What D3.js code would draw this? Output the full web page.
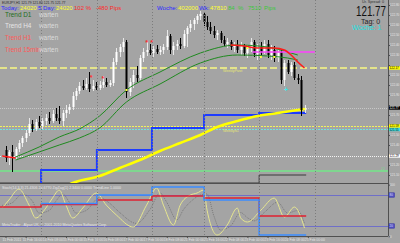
<!DOCTYPE html>
<html><head><meta charset="utf-8">
<script src="https://cdn.jsdelivr.net/npm/d3@7"></script>
<style>html,body{margin:0;padding:0;background:#a4a4a4;overflow:hidden}svg{display:block}text{font-family:"Liberation Sans",Arial,sans-serif}</style>
</head><body><svg id="c" width="400" height="243"></svg>
<script>
// ---------- DATA ----------
// candles [open, high, low, close]
const candles = [
[121.35,121.39,121.23,121.27],[121.27,121.35,121.20,121.33],[121.33,121.40,121.13,121.29],[121.29,121.38,121.25,121.36],
[121.36,121.45,121.33,121.42],[121.42,121.49,121.38,121.47],[121.47,121.55,121.43,121.52],[121.52,121.67,121.49,121.61],
[121.61,121.65,121.53,121.56],[121.56,121.66,121.54,121.63],[121.63,121.69,121.57,121.59],[121.59,121.67,121.56,121.64],
[121.64,121.71,121.60,121.67],[121.67,121.73,121.61,121.64],[121.64,121.75,121.62,121.71],[121.71,121.77,121.64,121.67],
[121.67,121.79,121.61,121.64],[121.64,121.75,121.59,121.72],[121.72,121.80,121.67,121.75],[121.75,121.81,121.71,121.78],
[121.78,121.93,121.75,121.89],[121.89,121.97,121.85,121.94],[121.94,122.03,121.91,121.99],[121.99,122.05,121.95,121.97],
[121.97,122.07,121.95,122.01],[122.01,122.13,121.93,121.96],[121.96,122.05,121.94,121.99],[121.99,122.03,121.95,121.97],
[121.97,122.04,121.95,122.00],[122.00,122.09,121.97,122.03],[122.03,122.07,121.98,122.00],[122.00,122.05,121.98,122.02],
[122.02,122.27,121.99,122.23],[122.23,122.37,122.20,122.33],[122.33,122.41,122.28,122.38],[122.38,122.47,122.33,122.43],
[122.43,122.45,121.87,121.93],[121.93,122.07,121.89,122.03],[122.03,122.15,121.97,122.10],[122.10,122.19,122.03,122.07],
[122.07,122.30,122.05,122.27],[122.27,122.37,122.23,122.33],[122.33,122.43,122.29,122.35],[122.35,122.41,122.30,122.32],
[122.32,122.39,122.28,122.36],[122.36,122.40,122.31,122.33],[122.33,122.39,122.30,122.35],[122.35,122.41,122.31,122.38],
[122.38,122.55,122.35,122.49],[122.49,122.51,122.31,122.35],[122.35,122.43,122.30,122.39],[122.39,122.45,122.35,122.41],
[122.41,122.47,122.36,122.39],[122.39,122.55,122.37,122.51],[122.51,122.59,122.38,122.57],[122.57,122.65,122.53,122.61],
[122.61,122.67,122.55,122.65],[122.65,122.71,122.61,122.69],[122.69,122.74,122.65,122.71],[122.71,122.73,122.59,122.63],
[122.63,122.69,122.55,122.58],[122.58,122.63,122.51,122.54],[122.54,122.59,122.47,122.50],[122.50,122.55,122.45,122.52],
[122.52,122.54,122.42,122.45],[122.45,122.49,122.39,122.41],[122.41,122.47,122.37,122.43],[122.43,122.45,122.35,122.38],
[122.38,122.43,122.33,122.40],[122.40,122.45,122.32,122.35],[122.35,122.43,122.30,122.39],[122.39,122.41,122.29,122.32],
[122.32,122.40,122.27,122.37],[122.37,122.47,122.33,122.43],[122.43,122.45,122.28,122.31],[122.31,122.41,122.25,122.38],
[122.38,122.43,122.30,122.33],[122.33,122.45,122.31,122.41],[122.41,122.45,122.27,122.30],[122.30,122.40,122.25,122.35],
[122.35,122.39,122.23,122.27],[122.27,122.37,122.23,122.33],[122.33,122.35,122.01,122.05],[122.05,122.25,121.99,122.22],
[122.22,122.25,122.11,122.13],[122.13,122.23,122.09,122.20],[122.20,122.23,122.05,122.07],[122.07,122.11,122.01,122.05],
[122.05,122.09,121.69,121.75],[121.75,121.80,121.72,121.77]
];
// moving averages [barIndex, price]
const maGreenFast = [[3,121.28],[10,121.38],[16,121.48],[22,121.56],[28,121.69],[36,121.95],[46,122.13],[58,122.32],[69,122.40],[78,122.38],[84,122.33],[87,122.30]];
const maGreenSlow = [[3,121.25],[10,121.33],[16,121.40],[22,121.47],[28,121.57],[36,121.83],[46,122.01],[58,122.22],[69,122.30],[78,122.29],[84,122.27],[87,122.25]];
const maRed = [[67,122.40],[71,122.39],[75,122.37],[80,122.37],[83,122.35],[85,122.30],[87,122.23],[89,122.17]];
const maRedLeft = [[-1,121.29],[3,121.27]];
const maYellow = [[15,120.94],[20,121.02],[28,121.09],[34,121.17],[40,121.25],[46,121.34],[52,121.42],[58,121.50],[63,121.58],[69,121.64],[75,121.69],[81,121.72],[87,121.75],[89,121.76]];
// day boundaries (bar index) and step levels
const dayBreaks = [10.6,27.2,43.6,59.1,75.5,92.1];
const blueLevels = [120.90,121.15,121.35,121.57,121.70,121.72];
const darkLevels = [121.02,121.02,121.02,121.02,121.02,121.10];
const magentaLine = [[73.5,122.33],[92.1,122.33]];
// horizontal lines
const hLevels = [
 {p:122.17, c:"#e4e48a", w:2, d:"7,3"},
 {p:121.77, c:"#c8c8c8", w:1, d:"1,1"},
 {p:121.59, c:"#f4f45a", w:1, d:"2,1"},
 {p:121.555, c:"#6fe3e3", w:1, d:"2,1"},
 {p:121.29, c:"#f4f4f4", w:1, d:"1,1"},
 {p:121.14, c:"#7fd68f", w:2, d:null}
];
const axisTags = [
 {p:122.17, bg:"#ffff00", fg:"#000", t:"122.17"},
 {p:121.77, bg:"#000000", fg:"#fff", t:"121.77"},
 {p:121.59, bg:"#ffff00", fg:"#000", t:"121.59"},
 {p:121.555, bg:"#40e0e0", fg:"#000", t:"121.55"},
 {p:121.29, bg:"#ffffff", fg:"#000", t:"121.29"}
];
const redMarks = [[25.5,122.08],[29,122.07],[42,122.43],[43.5,122.43]];
const yellowDots = [[36,121.95],[72,122.37],[76,122.28],[80,122.28],[89,121.76]];
const cyanMark = [83.5,121.96];
const priceTicks = [122.80,122.70,122.60,122.50,122.40,122.30,122.20,122.10,122.00,121.90,121.80,121.70,121.60,121.50,121.40,121.30,121.20,121.10];
// stochastic [barIndex, value]
const stochMain = [[-1,54.7],[1,70.2],[4,91.5],[7,60.5],[9,35.4],[12,54.7],[14,74.1],[16,89.6],[18,60.5],[20,35.4],[23,54.7],[27,83.8],[30,60.5],[33,41.3],[38,18.0],[42,60.5],[45,93.4],[47,60.5],[50,21.8],[52,60.5],[55,79.9],[57,83.8],[59,89.6],[60,50.6],[63,2.5],[66,21.8],[69,54.7],[70,35.4],[72,27.7],[76,50.6],[80,74.1],[83,37.3],[86,56.7],[89,16.1]];
const stochSignal = [[-1,60],[2,65],[5,82],[8,68],[10,45],[13,50],[15,68],[17,82],[19,66],[21,45],[24,50],[28,75],[31,64],[34,46],[39,25],[43,52],[46,84],[48,66],[51,32],[53,52],[56,72],[58,80],[60,82],[62,40],[64,12],[67,20],[70,46],[72,36],[74,30],[77,46],[81,66],[84,45],[87,50],[89,25]];
const subRedLevels = [56.7,61.5,70.2,78.0,74.1,39.3];
const subBlueLevels = [null,63.8,79.9,95.4,70.2,2.5];
const subLevels = [80,20];
const subTicks = [100,0];
const timeIdx = [0,6,12,18,24,30,36,42,48,54,60,66,72,78,84,90];
const timeLabels = ["11 Feb 2011","11 Feb 16:00","14 Feb 08:00","15 Feb 00:00","15 Feb 16:00","16 Feb 08:00","17 Feb 00:00","17 Feb 16:00","18 Feb 08:00","21 Feb 00:00","21 Feb 16:00","22 Feb 08:00","23 Feb 00:00","23 Feb 16:00","24 Feb 08:00","25 Feb 00:00"];

// ---------- LAYOUT ----------
const svg = d3.select("#c");
const plotR = 388, mainBot = 183, subTop = 184, subBot = 236;
const AX_FS = 2.9;
const x = d3.scaleLinear().domain([0, 89]).range([5.5, 304.5]);
const y = d3.scaleLinear().domain([121.02, 122.85]).range([183, 0]);
const ys = d3.scaleLinear().domain([0, 100]).range([236.3, 184.7]);
const defs = svg.append("defs");
defs.append("clipPath").attr("id","cm").append("rect").attr("x",0).attr("y",0).attr("width",plotR).attr("height",mainBot);
defs.append("clipPath").attr("id","cs").append("rect").attr("x",0).attr("y",subTop).attr("width",plotR).attr("height",subBot-subTop);

svg.append("rect").attr("width",400).attr("height",243).attr("fill","#a4a4a4");
const gm = svg.append("g").attr("clip-path","url(#cm)");
const gs = svg.append("g").attr("clip-path","url(#cs)");

// vertical grid
dayBreaks.forEach(d=>{
  const xx = Math.round(x(d))+0.5;
  svg.append("line").attr("x1",xx).attr("x2",xx).attr("y1",0).attr("y2",subBot)
    .attr("stroke","#7c7c7c").attr("stroke-dasharray","1,2");
});
// horizontal levels
hLevels.forEach(h=>{
  const yy = Math.round(y(h.p)) + (h.w===1?0.5:0);
  const l = gm.append("line").attr("x1",0).attr("x2",plotR).attr("y1",yy).attr("y2",yy)
    .attr("stroke",h.c).attr("stroke-width",h.w);
  if(h.d) l.attr("stroke-dasharray",h.d);
});
gm.append("text").attr("x",223).attr("y",y(122.17)+4).attr("font-size",3.5).attr("fill","#e8e870").text("WeeklyPivot");
gm.append("text").attr("x",223).attr("y",y(121.58)+4.5).attr("font-size",3.5).attr("fill","#e8e870").text("WeeklyS1");
gm.append("text").attr("x",381).attr("y",y(121.14)-1).attr("font-size",3.5).attr("fill","#7fd68f").text("22");

// step helper
function stepPts(levels, breaks, endIdx, scaleY){
  const pts=[]; const starts=[-2].concat(breaks.slice(0,levels.length-1));
  levels.forEach((v,i)=>{ if(v==null) return; const s=starts[i]; const e=(i<levels.length-1)?breaks[i]:endIdx;
    pts.push({seg:i, a:[x(s),scaleY(v)], b:[x(e),scaleY(v)]}); });
  return pts;
}
function drawSteps(g, levels, breaks, endIdx, scaleY, color, w){
  const segs = stepPts(levels, breaks, endIdx, scaleY);
  let path="";
  segs.forEach((s,k)=>{ path += (k===0 || segs[k-1].seg!==s.seg-1 ? "M":"L") + s.a[0]+","+s.a[1]+"L"+s.b[0]+","+s.b[1]; });
  g.append("path").attr("d",path).attr("fill","none").attr("stroke",color).attr("stroke-width",w);
}
drawSteps(gm, darkLevels, dayBreaks, 89.5, y, "#3a3a3a", 1);
drawSteps(gm, blueLevels, dayBreaks, 89.5, y, "#1e3cff", 2);

// yellow MA
const line = d3.line().x(d=>x(d[0])).y(d=>y(d[1])).curve(d3.curveMonotoneX);
gm.append("path").attr("d",line(maYellow)).attr("fill","none").attr("stroke","#ffff00").attr("stroke-width",2.5);

// candles
const cw = 2;
candles.forEach((c,i)=>{
  const [o,h,l,cl] = c; const up = cl>=o; const col = up?"#ffffff":"#000000";
  const cx = Math.round(x(i));
  gm.append("line").attr("x1",cx+0.5).attr("x2",cx+0.5).attr("y1",y(h)).attr("y2",y(l)).attr("stroke",up?"#e8e8e8":"#000");
  const top = y(Math.max(o,cl)), bot = y(Math.min(o,cl));
  gm.append("rect").attr("x",cx-0.5).attr("y",top).attr("width",cw).attr("height",Math.max(1,bot-top)).attr("fill",col);
});

// other MAs
gm.append("path").attr("d",line(maGreenFast)).attr("fill","none").attr("stroke","#1f8a1f").attr("stroke-width",1);
gm.append("path").attr("d",line(maGreenSlow)).attr("fill","none").attr("stroke","#1f8a1f").attr("stroke-width",1);
gm.append("path").attr("d",d3.line().x(d=>x(d[0])).y(d=>y(d[1]))(magentaLine)).attr("stroke","#ff40ff").attr("stroke-width",1.5).attr("fill","none");
gm.append("path").attr("d",line(maRed)).attr("fill","none").attr("stroke","#ff1a1a").attr("stroke-width",1.5);
gm.append("path").attr("d",line(maRedLeft)).attr("fill","none").attr("stroke","#ff1a1a").attr("stroke-width",1.5);

// markers
redMarks.forEach(m=>{
  gm.append("text").attr("x",x(m[0])).attr("y",y(m[1])+2.5).attr("text-anchor","middle").attr("font-size",7).attr("font-weight","bold").attr("fill","#ff3030").text("*");
});
yellowDots.forEach(m=>{
  gm.append("rect").attr("x",x(m[0])-1).attr("y",y(m[1])-1).attr("width",2).attr("height",2).attr("fill","#ffff40");
});
gm.append("text").attr("x",x(cyanMark[0])).attr("y",y(cyanMark[1])+2.5).attr("text-anchor","middle").attr("font-size",7).attr("font-weight","bold").attr("fill","#40e8e8").text("+");

// ---------- SUB PANEL ----------
subLevels.forEach(v=>{
  gs.append("line").attr("x1",0).attr("x2",plotR).attr("y1",Math.round(ys(v))+0.5).attr("y2",Math.round(ys(v))+0.5).attr("stroke","#6f6fc8");
});
const sline = d3.line().x(d=>x(d[0])).y(d=>ys(d[1])).curve(d3.curveMonotoneX);
gs.append("path").attr("d",sline(stochSignal)).attr("fill","none").attr("stroke","#7a7a7a").attr("stroke-dasharray","1,1");
gs.append("path").attr("d",sline(stochMain)).attr("fill","none").attr("stroke","#e6e690").attr("stroke-width",1);
drawSteps(gs, subRedLevels, dayBreaks, 89.5, ys, "#e02030", 1.5);
drawSteps(gs, subBlueLevels, dayBreaks, 89.5, ys, "#3a8cff", 1.5);
svg.append("text").attr("x",2).attr("y",188.5).attr("font-size",3.6).attr("fill","#e8e8e8")
  .text("Stoch(14,3,3) 21.4306 24.6770   ZigZag(1) 2.3400 0.0000 TrendLine 1.0000");
svg.append("text").attr("x",2).attr("y",226).attr("font-size",3.6).attr("fill","#e8e8e8")
  .text("MetaTrader - Alpari UK, © 2001-2010 MetaQuotes Software Corp.");

// separators / frames
svg.append("line").attr("x1",0).attr("x2",plotR).attr("y1",183.5).attr("y2",183.5).attr("stroke","#505050");
svg.append("line").attr("x1",0).attr("x2",plotR).attr("y1",subBot+0.5).attr("y2",subBot+0.5).attr("stroke","#505050");
svg.append("line").attr("x1",plotR+0.5).attr("x2",plotR+0.5).attr("y1",0).attr("y2",subBot).attr("stroke","#505050");

// ---------- AXES ----------
// hide tick labels that would sit under a coloured price tag
const freeTicks = priceTicks.filter(p => axisTags.every(tg => Math.abs(y(p)-y(tg.p)) > 4.2));
const ay = svg.append("g").attr("transform",`translate(${plotR+0.5},0)`)
  .call(d3.axisRight(y).tickValues(priceTicks).tickSize(1.5).tickFormat(d => freeTicks.includes(d) ? d3.format(".2f")(d) : ""));
ay.select(".domain").remove();
ay.selectAll("line").attr("stroke","#505050");
ay.selectAll("text").attr("font-size",AX_FS).attr("fill","#e6e6e6").attr("x",1.5).attr("font-family","Liberation Sans")
  .attr("textLength",9.3).attr("lengthAdjust","spacingAndGlyphs");
ay.selectAll("text").filter(function(){return this.textContent==="";}).remove();
axisTags.forEach(tg=>{
  const yy=y(tg.p);
  svg.append("rect").attr("x",plotR+1).attr("y",yy-1.7).attr("width",11).attr("height",3.4).attr("fill",tg.bg);
  svg.append("text").attr("x",plotR+1.5).attr("y",yy+1.0).attr("font-size",2.7).attr("fill",tg.fg)
    .attr("textLength",9.3).attr("lengthAdjust","spacingAndGlyphs").text(tg.t);
});
const as = svg.append("g").attr("transform",`translate(${plotR+0.5},0)`)
  .call(d3.axisRight(ys).tickValues(subTicks).tickSize(1.5));
as.select(".domain").remove();
as.selectAll("line").attr("stroke","#505050");
as.selectAll("text").attr("font-size",AX_FS).attr("fill","#e6e6e6").attr("x",1.5).attr("font-family","Liberation Sans");
subLevels.forEach(v=>{
  svg.append("rect").attr("x",plotR+1).attr("y",ys(v)-2.2).attr("width",5.5).attr("height",4.4).attr("fill","#5050c0").attr("stroke","#3030a0").attr("stroke-width",0.5);
  svg.append("text").attr("x",plotR+1.6).attr("y",ys(v)+1.1).attr("font-size",AX_FS).attr("fill","#e0e0ff").text(v);
});
const ax = svg.append("g").attr("transform",`translate(0,${subBot+0.5})`)
  .call(d3.axisBottom(x).tickValues(timeIdx).tickSize(1.5).tickFormat((d,i)=>timeLabels[i]));
ax.select(".domain").remove();
ax.selectAll("line").attr("stroke","#505050");
ax.selectAll("text").attr("font-size",3.4).attr("fill","#e6e6e6").attr("text-anchor","start").attr("dx",-3.5).attr("y",2.5).attr("dy","0.71em").attr("font-family","Liberation Sans");

// ---------- OVERLAY TEXTS ----------
function t(xp,yp,s,col,fs,extra){ const e=svg.append("text").attr("x",xp).attr("y",yp).attr("font-size",fs).attr("fill",col).text(s); if(extra) extra(e); return e; }
t(2,3.5,"EURJPY,H1  121.79 121.80 121.75 121.77","#2a2a2a",3.4);
const fs1 = 6.0;
t(1,9.5,"Today:","#2b2bff",fs1); t(20,9.5,"24020","#ffff30",fs1); t(38,9.5,"5 Day:","#2b2bff",fs1);
t(56,9.5,"24020","#ffff30",fs1); t(74,9.5,"102 %","#ff2a2a",fs1); t(96,9.5,"-480 Pips","#ff2a2a",fs1);
t(157,9.5,"Woche:","#2b2bff",fs1); t(178,9.5,"402000","#ffff30",fs1); t(199,9.5,"Wk:","#2b2bff",fs1);
t(210,9.5,"47810","#ffff30",fs1); t(228,9.5,"84","#3cc83c",fs1); t(238,9.5,"%","#3cc83c",fs1);
t(248,9.5,"7510","#3cc83c",fs1); t(264,9.5,"Pips","#3cc83c",fs1);
const fs2 = 6.4;
t(5,17,"Trend D1","#1e6e1e",fs2); t(39,17,"warten","#dcdcdc",fs2);
t(5,28,"Trend H4","#e6e6e6",fs2); t(39,28,"warten","#dcdcdc",fs2);
t(5,40,"Trend H1","#ff5a5a",fs2); t(39,40,"warten","#dcdcdc",fs2);
t(5,52,"Trend 15min","#ff5a5a",fs2); t(39,52,"warten","#dcdcdc",fs2);
t(362,2.6,"Ur. Spread: 0","#303030",2.8,e=>e.attr("textLength",22).attr("lengthAdjust","spacingAndGlyphs"));
svg.append("text").attr("transform","translate(356,15.5) scale(1,1.25)")
  .attr("font-family","'Liberation Sans Narrow','Liberation Sans',Arial,sans-serif")
  .attr("font-size",11).attr("fill","#111111")
  .attr("textLength",30).attr("lengthAdjust","spacingAndGlyphs").text("121.77");
t(361,23.5,"Tag:  0","#222222",7);
t(352,29.5,"Woche:  1","#22e0e0",7);
</script>
</body></html>
